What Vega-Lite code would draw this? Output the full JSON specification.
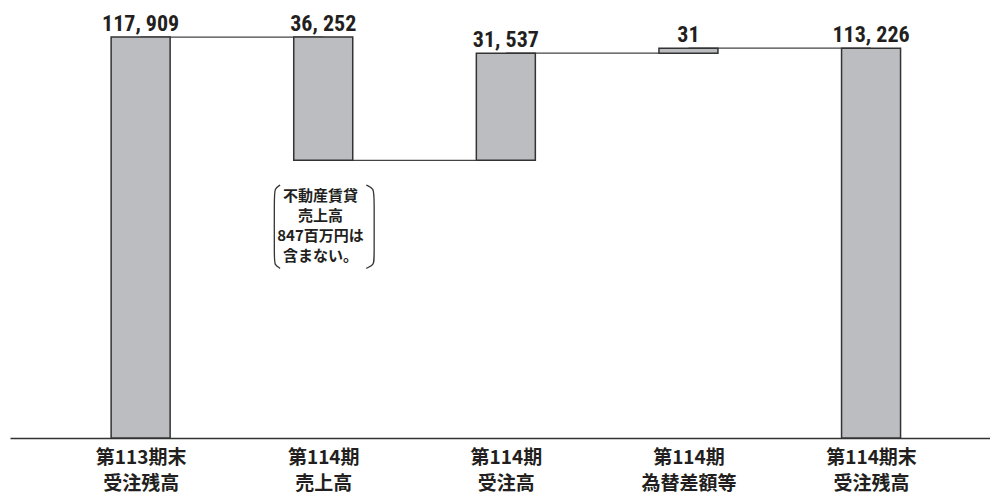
{
  "$schema": "https://vega.github.io/schema/vega-lite/v6.json",
  "autosize": "none",
  "width": 980,
  "height": 408,
  "padding": {"left": 10, "top": 30, "right": 0, "bottom": 58},
  "background": "white",
  "config": {"view": {"stroke": null}},
  "datasets": {
    "bars": [
      {"idx": 0, "label": "第113期末|受注残高", "start": 0, "end": 117909, "text": "117, 909"},
      {"idx": 1, "label": "第114期|売上高", "start": 81657, "end": 117909, "text": "36, 252"},
      {"idx": 2, "label": "第114期|受注高", "start": 81657, "end": 113194, "text": "31, 537"},
      {"idx": 3, "label": "第114期|為替差額等", "start": 113194, "end": 114660, "text": "31"},
      {"idx": 4, "label": "第114期末|受注残高", "start": 0, "end": 114660, "text": "113, 226"}
    ],
    "links": [
      {"from": 0, "to": 1, "level": 117909},
      {"from": 1, "to": 2, "level": 81657},
      {"from": 2, "to": 3, "level": 113194},
      {"from": 3, "to": 4, "level": 114660}
    ],
    "note": [
      {"pos": 0.985, "val": 73200, "text": "不動産賃貸\n売上高\n847百万円は\n含まない。"}
    ],
    "brackets": [
      {"side": "left", "ord": 1, "pos": 0.764, "val": 74400},
      {"side": "left", "ord": 2, "pos": 0.733, "val": 73400},
      {"side": "left", "ord": 3, "pos": 0.732, "val": 70600},
      {"side": "left", "ord": 4, "pos": 0.732, "val": 52800},
      {"side": "left", "ord": 5, "pos": 0.733, "val": 50900},
      {"side": "left", "ord": 6, "pos": 0.764, "val": 49900},
      {"side": "right", "ord": 1, "pos": 1.236, "val": 74400},
      {"side": "right", "ord": 2, "pos": 1.278, "val": 73400},
      {"side": "right", "ord": 3, "pos": 1.279, "val": 70600},
      {"side": "right", "ord": 4, "pos": 1.279, "val": 52800},
      {"side": "right", "ord": 5, "pos": 1.278, "val": 50900},
      {"side": "right", "ord": 6, "pos": 1.236, "val": 49900}
    ]
  },
  "layer": [
    {
      "data": {"name": "links"},
      "mark": {"type": "rule", "color": "#444444", "strokeWidth": 1.3},
      "encoding": {
        "x": {"field": "from", "type": "quantitative", "scale": {"domain": [-0.688, 4.624], "nice": false, "zero": false},
          "axis": {
            "values": [0, 1, 2, 3, 4],
            "title": null,
            "grid": false,
            "ticks": false,
            "domainColor": "#333333",
            "domainWidth": 1.5,
            "labelFont": "Noto Sans CJK JP",
            "labelFontWeight": "bold",
            "labelFontSize": 19,
            "labelColor": "#231f20",
            "labelLineHeight": 26,
            "labelPadding": 10,
            "labelFlush": false,
            "labelOverlap": false,
            "labelExpr": "split(['第113期末|受注残高','第114期|売上高','第114期|受注高','第114期|為替差額等','第114期末|受注残高'][datum.value], '|')"
          }
        },
        "x2": {"field": "to"},
        "y": {"field": "level", "type": "quantitative", "scale": {"domain": [0, 120000], "nice": false}, "axis": null}
      }
    },
    {
      "data": {"name": "bars"},
      "mark": {"type": "bar", "width": 59, "fill": "#bcbdc0", "stroke": "#333333", "strokeWidth": 1.5},
      "encoding": {
        "x": {"field": "idx", "type": "quantitative"},
        "y": {"field": "start", "type": "quantitative"},
        "y2": {"field": "end"}
      }
    },
    {
      "data": {"name": "bars"},
      "mark": {"type": "text", "font": "Roboto Condensed, DejaVu Sans Condensed, Roboto", "fontWeight": "bold", "fontSize": 22, "color": "#231f20", "baseline": "alphabetic", "align": "center", "dy": -6},
      "encoding": {
        "x": {"field": "idx", "type": "quantitative"},
        "y": {"field": "end", "type": "quantitative"},
        "text": {"field": "text", "type": "nominal"}
      }
    },
    {
      "data": {"name": "note"},
      "mark": {"type": "text", "font": "Noto Sans CJK JP", "fontWeight": "bold", "fontSize": 15, "lineHeight": 20, "lineBreak": "\n", "color": "#231f20", "baseline": "top", "align": "center"},
      "encoding": {
        "x": {"field": "pos", "type": "quantitative"},
        "y": {"field": "val", "type": "quantitative"},
        "text": {"field": "text", "type": "nominal"}
      }
    },
    {
      "data": {"name": "brackets"},
      "mark": {"type": "line", "interpolate": "basis", "color": "#333333", "strokeWidth": 1.3},
      "encoding": {
        "x": {"field": "pos", "type": "quantitative"},
        "y": {"field": "val", "type": "quantitative"},
        "detail": {"field": "side", "type": "nominal"},
        "order": {"field": "ord", "type": "quantitative"}
      }
    }
  ]
}
